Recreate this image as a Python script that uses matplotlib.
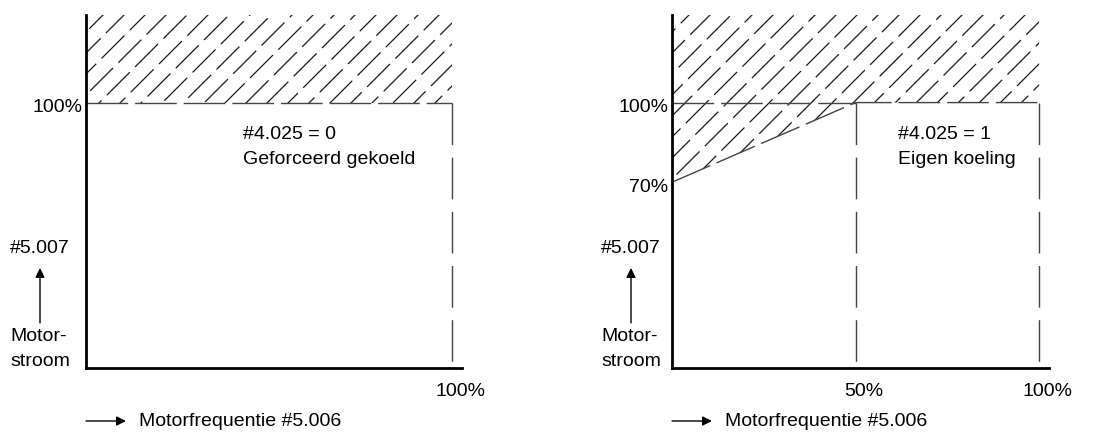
import matplotlib
matplotlib.use("Agg")
import matplotlib.pyplot as plt
import numpy as np
from matplotlib.patches import Polygon
from matplotlib.collections import LineCollection
import matplotlib.transforms as mtransforms

plt.rcParams['font.family'] = ['Liberation Sans', 'DejaVu Sans']
FS = 14

# ---- data ----
left_freq = [0, 100]
left_limit = [100, 100]
right_freq = [0, 50, 100]
right_limit = [70, 100, 100]
left_yticks = [100]
left_ylabels = ["100%"]
right_yticks = [70, 100]
right_ylabels = ["70%", "100%"]
left_xticks = [100]
left_xlabels = ["100%"]
right_xticks = [50, 100]
right_xlabels = ["50%", "100%"]
left_info = ["#4.025 = 0", "Geforceerd gekoeld"]
right_info = ["#4.025 = 1", "Eigen koeling"]
y_label = "#5.007"
y_name = ["Motor-", "stroom"]
x_name = "Motorfrequentie #5.006"

XMAX = 102.7
YMAX = 133.0
W, H = 1112, 432
DPI = 100

fig = plt.figure(figsize=(W / DPI, H / DPI), dpi=DPI)

def make_ax(left_px, right_px):
    bottom_px, top_px = 368, 15
    ax = fig.add_axes([left_px / W, (H - bottom_px) / H,
                       (right_px - left_px) / W, (bottom_px - top_px) / H])
    ax.set_xlim(0, XMAX)
    ax.set_ylim(0, YMAX)
    for s in ['top', 'right']:
        ax.spines[s].set_visible(False)
    for s in ['left', 'bottom']:
        ax.spines[s].set_linewidth(2.0)
        ax.spines[s].set_color('black')
    ax.set_xticks([])
    ax.set_yticks([])
    ax.patch.set_alpha(0)
    return ax

def hatch(ax, xs, ys):
    poly_x = list(xs) + [xs[-1], xs[0]]
    poly_y = list(ys) + [YMAX, YMAX]
    poly = Polygon(np.column_stack([poly_x, poly_y]), closed=True,
                   facecolor='none', edgecolor='none', transform=ax.transData)
    ax.add_patch(poly)
    bbox = ax.get_window_extent()
    wpx, hpx = bbox.width, bbox.height
    spacing = 21.0
    segs, styles = [], []
    k = -int(hpx / spacing) - 2
    i = 0
    while k * spacing < wpx + spacing:
        x0 = k * spacing
        p0 = (x0 / wpx, 0.0)
        p1 = ((x0 + hpx + 20) / wpx, (hpx + 20) / hpx)
        segs.append([p0, p1])
        styles.append((float((i * 13) % 40), (26.0, 6.0)))
        k += 1
        i += 1
    lc = LineCollection(segs, colors='#1a1a1a', linewidths=0.9,
                        linestyles=styles, transform=ax.transAxes)
    lc.set_clip_path(poly)
    ax.add_collection(lc)

def decorate(ax, yt, yl, xt, xl, info, info_x, side_off):
    for v, lab in zip(yt, yl):
        t = mtransforms.offset_copy(ax.transData, fig, x=-4, y=-5, units='dots')
        ax.text(0, v, lab, transform=t, ha='right', va='center', fontsize=FS)
    for v, lab in zip(xt, xl):
        t = mtransforms.offset_copy(ax.transData, fig, x=8, y=-24, units='dots')
        ax.text(v, 0, lab, transform=t, ha='center', va='center', fontsize=FS)
    ax.text(info_x, 88, info[0], ha='left', va='center', fontsize=FS)
    ax.text(info_x, 78.5, info[1], ha='left', va='center', fontsize=FS)
    t = mtransforms.offset_copy(ax.transData, fig, x=-side_off, y=0, units='dots')
    ax.text(0, 45, y_label, transform=t, ha='left', va='center', fontsize=FS)
    ax.text(0, 11.7, y_name[0], transform=t, ha='left', va='center', fontsize=FS)
    ax.text(0, 2.6, y_name[1], transform=t, ha='left', va='center', fontsize=FS)
    ta = mtransforms.offset_copy(ax.transData, fig, x=-side_off + 30, y=0, units='dots')
    ax.annotate('', xy=(0, 37.7), xytext=(0, 17), xycoords=ta, textcoords=ta,
                arrowprops=dict(arrowstyle='-|>', color='black', lw=1.0,
                                mutation_scale=14, shrinkA=0, shrinkB=0),
                annotation_clip=False)
    tb = mtransforms.offset_copy(ax.transData, fig, x=0, y=-53, units='dots')
    tb2 = mtransforms.offset_copy(ax.transData, fig, x=40, y=-53, units='dots')
    ax.annotate('', xy=(0, 0), xytext=(0, 0), xycoords=tb2, textcoords=tb,
                arrowprops=dict(arrowstyle='-|>', color='black', lw=1.0,
                                mutation_scale=14, shrinkA=0, shrinkB=0),
                annotation_clip=False)
    tt = mtransforms.offset_copy(ax.transData, fig, x=53, y=-53, units='dots')
    ax.text(0, 0, x_name, transform=tt, ha='left', va='center', fontsize=FS,
            clip_on=False)

dash_h = (0, (30, 5))
dash_v = (0, (30, 9))
line_col = '#444444'

# ---- left panel ----
axL = make_ax(86, 462)
hatch(axL, left_freq, left_limit)
axL.plot(left_freq, left_limit, color=line_col, lw=1.0, linestyle=dash_h)
axL.plot([left_freq[-1]] * 2, [left_limit[-1], 0], color=line_col, lw=1.0,
         linestyle=dash_v)
decorate(axL, left_yticks, left_ylabels, left_xticks, left_xlabels,
         left_info, 42.9, 76)

# ---- right panel ----
axR = make_ax(672, 1049)
hatch(axR, right_freq, right_limit)
axR.plot(right_freq, right_limit, color=line_col, lw=1.0, linestyle=dash_h)
axR.plot([right_freq[0], right_freq[1]], [right_limit[-1]] * 2, color=line_col,
         lw=1.0, linestyle=dash_h)
axR.plot([right_freq[1]] * 2, [right_limit[1], 0], color=line_col, lw=1.0,
         linestyle=dash_v)
axR.plot([right_freq[-1]] * 2, [right_limit[-1], 0], color=line_col, lw=1.0,
         linestyle=dash_v)
decorate(axR, right_yticks, right_ylabels, right_xticks, right_xlabels,
         right_info, 61.6, 71)

fig.savefig("out.png", dpi=DPI)
